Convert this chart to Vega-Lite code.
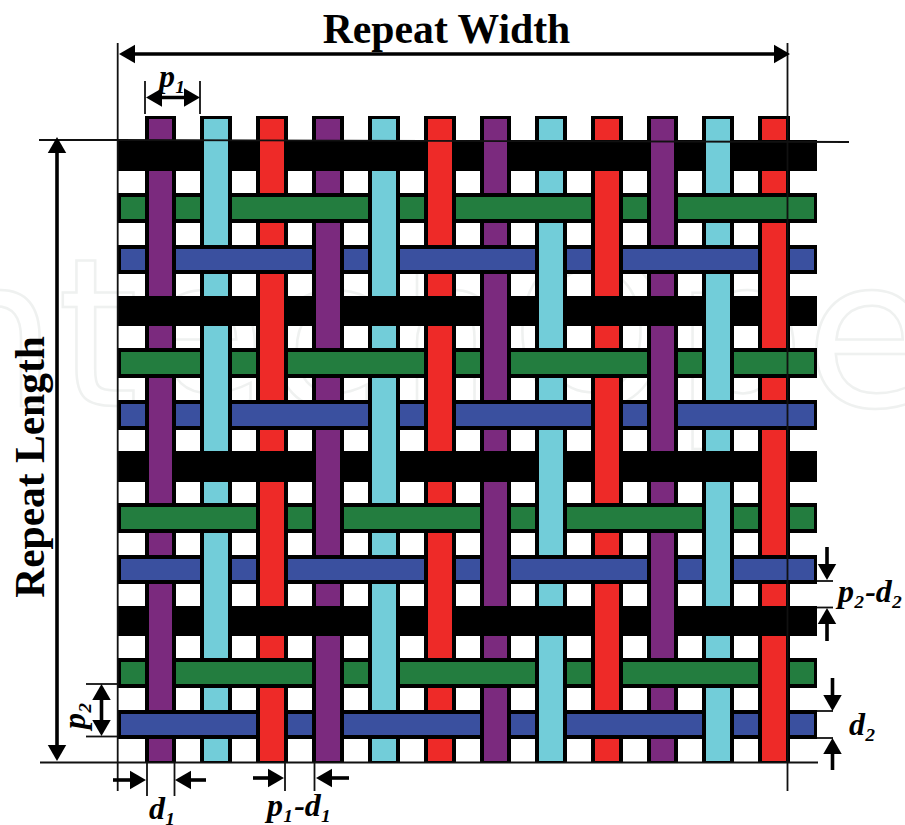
{
"$schema":"https://vega.github.io/schema/vega-lite/v6.json",
"width":905,"height":825,"padding":0,"autosize":{"type":"none"},
"background":"white",
"view":{"stroke":null},
"datasets":{
"warp":[
{"col":1,"yarn":"Purple","x0":149,"x1":172,"y0":119,"y1":761},
{"col":2,"yarn":"Cyan","x0":204,"x1":228,"y0":119,"y1":761},
{"col":3,"yarn":"Red","x0":260,"x1":284,"y0":119,"y1":761},
{"col":4,"yarn":"Purple","x0":316,"x1":340,"y0":119,"y1":761},
{"col":5,"yarn":"Cyan","x0":372,"x1":396,"y0":119,"y1":761},
{"col":6,"yarn":"Red","x0":428,"x1":452,"y0":119,"y1":761},
{"col":7,"yarn":"Purple","x0":484,"x1":507,"y0":119,"y1":761},
{"col":8,"yarn":"Cyan","x0":539,"x1":563,"y0":119,"y1":761},
{"col":9,"yarn":"Red","x0":595,"x1":619,"y0":119,"y1":761},
{"col":10,"yarn":"Purple","x0":651,"x1":674,"y0":119,"y1":761},
{"col":11,"yarn":"Cyan","x0":706,"x1":730,"y0":119,"y1":761},
{"col":12,"yarn":"Red","x0":762,"x1":786,"y0":119,"y1":761}
],
"weft":[
{"row":1,"yarn":"Black","x0":121,"x1":814,"y0":144,"y1":167},
{"row":2,"yarn":"Green","x0":121,"x1":814,"y0":197,"y1":219},
{"row":3,"yarn":"Blue","x0":121,"x1":814,"y0":249,"y1":270},
{"row":4,"yarn":"Black","x0":121,"x1":814,"y0":300,"y1":322},
{"row":5,"yarn":"Green","x0":121,"x1":814,"y0":352,"y1":374},
{"row":6,"yarn":"Blue","x0":121,"x1":814,"y0":404,"y1":426},
{"row":7,"yarn":"Black","x0":121,"x1":814,"y0":455,"y1":478},
{"row":8,"yarn":"Green","x0":121,"x1":814,"y0":507,"y1":529},
{"row":9,"yarn":"Blue","x0":121,"x1":814,"y0":559,"y1":580},
{"row":10,"yarn":"Black","x0":121,"x1":814,"y0":610,"y1":632},
{"row":11,"yarn":"Green","x0":121,"x1":814,"y0":662,"y1":684},
{"row":12,"yarn":"Blue","x0":121,"x1":814,"y0":714,"y1":735}
],
"over":[
{"row":1,"col":2},{"row":1,"col":3},{"row":1,"col":6},{"row":1,"col":7},{"row":1,"col":10},{"row":1,"col":11},
{"row":2,"col":1},{"row":2,"col":2},{"row":2,"col":5},{"row":2,"col":6},{"row":2,"col":9},{"row":2,"col":10},
{"row":3,"col":1},{"row":3,"col":4},{"row":3,"col":5},{"row":3,"col":8},{"row":3,"col":9},{"row":3,"col":12},
{"row":4,"col":3},{"row":4,"col":4},{"row":4,"col":7},{"row":4,"col":8},{"row":4,"col":11},{"row":4,"col":12},
{"row":5,"col":2},{"row":5,"col":3},{"row":5,"col":6},{"row":5,"col":7},{"row":5,"col":10},{"row":5,"col":11},
{"row":6,"col":1},{"row":6,"col":2},{"row":6,"col":5},{"row":6,"col":6},{"row":6,"col":9},{"row":6,"col":10},
{"row":7,"col":1},{"row":7,"col":4},{"row":7,"col":5},{"row":7,"col":8},{"row":7,"col":9},{"row":7,"col":12},
{"row":8,"col":3},{"row":8,"col":4},{"row":8,"col":7},{"row":8,"col":8},{"row":8,"col":11},{"row":8,"col":12},
{"row":9,"col":2},{"row":9,"col":3},{"row":9,"col":6},{"row":9,"col":7},{"row":9,"col":10},{"row":9,"col":11},
{"row":10,"col":1},{"row":10,"col":2},{"row":10,"col":5},{"row":10,"col":6},{"row":10,"col":9},{"row":10,"col":10},
{"row":11,"col":1},{"row":11,"col":4},{"row":11,"col":5},{"row":11,"col":8},{"row":11,"col":9},{"row":11,"col":12},
{"row":12,"col":3},{"row":12,"col":4},{"row":12,"col":7},{"row":12,"col":8},{"row":12,"col":11},{"row":12,"col":12}
],
"guides":[
{"x0":117.7,"y0":43,"x1":117.7,"y1":791},
{"x0":787.5,"y0":43,"x1":787.5,"y1":791},
{"x0":39,"y0":140,"x1":118,"y1":140},
{"x0":118,"y0":140,"x1":849,"y1":142},
{"x0":40,"y0":762.5,"x1":818,"y1":762.5},
{"x0":145,"y0":81,"x1":145,"y1":114},
{"x0":200,"y0":81,"x1":200,"y1":114},
{"x0":147,"y0":763,"x1":147,"y1":796},
{"x0":174.5,"y0":763,"x1":174.5,"y1":796},
{"x0":285,"y0":763,"x1":285,"y1":791},
{"x0":314.5,"y0":763,"x1":314.5,"y1":791},
{"x0":86,"y0":684,"x1":118,"y1":684},
{"x0":86,"y0":736.5,"x1":118,"y1":736.5},
{"x0":817,"y0":581,"x1":833,"y1":581},
{"x0":817,"y0":607.5,"x1":833,"y1":607.5},
{"x0":817,"y0":711,"x1":833,"y1":711},
{"x0":817,"y0":738,"x1":833,"y1":738}
],
"shafts":[
{"x0":125,"y0":54,"x1":784,"y1":54},
{"x0":57,"y0":150,"x1":57,"y1":750},
{"x0":155,"y0":97.5,"x1":190,"y1":97.5},
{"x0":101.5,"y0":695,"x1":101.5,"y1":725},
{"x0":113,"y0":780,"x1":133,"y1":780},
{"x0":187,"y0":780,"x1":206,"y1":780},
{"x0":253,"y0":778,"x1":273,"y1":778},
{"x0":328,"y0":778,"x1":349,"y1":778},
{"x0":827,"y0":547,"x1":827,"y1":566},
{"x0":827,"y0":620,"x1":827,"y1":641},
{"x0":832.5,"y0":678,"x1":832.5,"y1":698},
{"x0":832.5,"y0":751,"x1":832.5,"y1":770}
],
"heads":[
{"x0":127,"y0":54,"dir":"left"},{"x0":782,"y0":54,"dir":"right"},
{"x0":57,"y0":145,"dir":"up"},{"x0":57,"y0":753,"dir":"down"},
{"x0":154,"y0":97.5,"dir":"left"},{"x0":192,"y0":97.5,"dir":"right"},
{"x0":101.5,"y0":692,"dir":"up"},{"x0":101.5,"y0":728,"dir":"down"},
{"x0":138,"y0":780,"dir":"right"},{"x0":183,"y0":780,"dir":"left"},
{"x0":276,"y0":778,"dir":"right"},{"x0":324,"y0":778,"dir":"left"},
{"x0":827,"y0":572,"dir":"down"},{"x0":827,"y0":616,"dir":"up"},
{"x0":832.5,"y0":703,"dir":"down"},{"x0":832.5,"y0":746,"dir":"up"}
]
},
"encoding":{
"x":{"field":"x0","type":"quantitative","axis":null,"scale":{"domain":[0,905],"range":[0,905],"nice":false,"zero":false}},
"y":{"field":"y0","type":"quantitative","axis":null,"scale":{"domain":[0,825],"range":[0,825],"nice":false,"zero":false}}
},
"layer":[
{"data":{"values":[{"label":"IntechOpen","x0":-135,"y0":406}]},
 "mark":{"type":"text","align":"left","baseline":"alphabetic","font":"DejaVu Sans","fontSize":207,"fill":"white","stroke":"#eff1f0","strokeWidth":2.5,"clip":true},
 "encoding":{"text":{"field":"label"}}},
{"data":{"name":"warp"},"mark":{"type":"rect","color":"black","xOffset":-4,"x2Offset":4,"yOffset":-3,"y2Offset":2},
 "encoding":{"x2":{"field":"x1"},"y2":{"field":"y1"}}},
{"data":{"name":"warp"},"mark":{"type":"rect"},
 "encoding":{"x2":{"field":"x1"},"y2":{"field":"y1"},
 "color":{"field":"yarn","type":"nominal","legend":null,"scale":{"domain":["Purple","Cyan","Red","Black","Green","Blue"],"range":["#7b2a7e","#72cdd9","#ee2a28","#000000","#237d3f","#3a509f"]}}}},
{"data":{"name":"weft"},"mark":{"type":"rect","color":"black","xOffset":-3.5,"x2Offset":3,"yOffset":-4,"y2Offset":4},
 "encoding":{"x2":{"field":"x1"},"y2":{"field":"y1"}}},
{"data":{"name":"weft"},"mark":{"type":"rect"},
 "encoding":{"x2":{"field":"x1"},"y2":{"field":"y1"},
 "color":{"field":"yarn","type":"nominal","legend":null}}},
{"data":{"name":"over"},
 "transform":[{"lookup":"col","from":{"data":{"name":"warp"},"key":"col","fields":["yarn","x0","x1"]}},
 {"lookup":"row","from":{"data":{"name":"weft"},"key":"row","fields":["y0","y1"]}}],
 "mark":{"type":"rect","color":"black","xOffset":-4,"x2Offset":4,"yOffset":-4,"y2Offset":4},
 "encoding":{"x2":{"field":"x1"},"y2":{"field":"y1"}}},
{"data":{"name":"over"},
 "transform":[{"lookup":"col","from":{"data":{"name":"warp"},"key":"col","fields":["yarn","x0","x1"]}},
 {"lookup":"row","from":{"data":{"name":"weft"},"key":"row","fields":["y0","y1"]}}],
 "mark":{"type":"rect","yOffset":-4,"y2Offset":4},
 "encoding":{"x2":{"field":"x1"},"y2":{"field":"y1"},
 "color":{"field":"yarn","type":"nominal","legend":null}}},
{"data":{"name":"guides"},"mark":{"type":"rule","color":"#111111","strokeWidth":1.8},
 "encoding":{"x2":{"field":"x1"},"y2":{"field":"y1"}}},
{"data":{"name":"shafts"},"mark":{"type":"rule","color":"black","strokeWidth":3.6},
 "encoding":{"x2":{"field":"x1"},"y2":{"field":"y1"}}},
{"data":{"name":"heads"},"mark":{"type":"point","filled":true,"color":"black","opacity":1,"size":340,"strokeWidth":0},
 "encoding":{"shape":{"field":"dir","type":"nominal","legend":null,"scale":{"domain":["left","right","up","down"],"range":["triangle-left","triangle-right","triangle-up","triangle-down"]}}}},
{"data":{"values":[{"label":"Repeat Width","x0":446.5,"y0":43}]},
 "mark":{"type":"text","align":"center","baseline":"alphabetic","font":"Liberation Serif","fontWeight":"bold","fontSize":41.7,"color":"black"},
 "encoding":{"text":{"field":"label"}}},
{"data":{"values":[{"label":"Repeat Length","x0":44,"y0":467}]},
 "mark":{"type":"text","align":"center","baseline":"alphabetic","angle":270,"font":"Liberation Serif","fontWeight":"bold","fontSize":41.5,"color":"black"},
 "encoding":{"text":{"field":"label"}}},
{"data":{"values":[
 {"label":"p₁","x0":159,"y0":87},
 {"label":"d₁","x0":149,"y0":819},
 {"label":"p₁-d₁","x0":267,"y0":816},
 {"label":"p₂-d₂","x0":838,"y0":602},
 {"label":"d₂","x0":849,"y0":735}
 ]},
 "mark":{"type":"text","align":"left","baseline":"alphabetic","font":"Liberation Serif","fontWeight":"bold","fontStyle":"italic","fontSize":32,"color":"black"},
 "encoding":{"text":{"field":"label"}}},
{"data":{"values":[{"label":"p₂","x0":85,"y0":729}]},
 "mark":{"type":"text","align":"left","baseline":"alphabetic","angle":270,"font":"Liberation Serif","fontWeight":"bold","fontStyle":"italic","fontSize":32,"color":"black"},
 "encoding":{"text":{"field":"label"}}}
]
}
